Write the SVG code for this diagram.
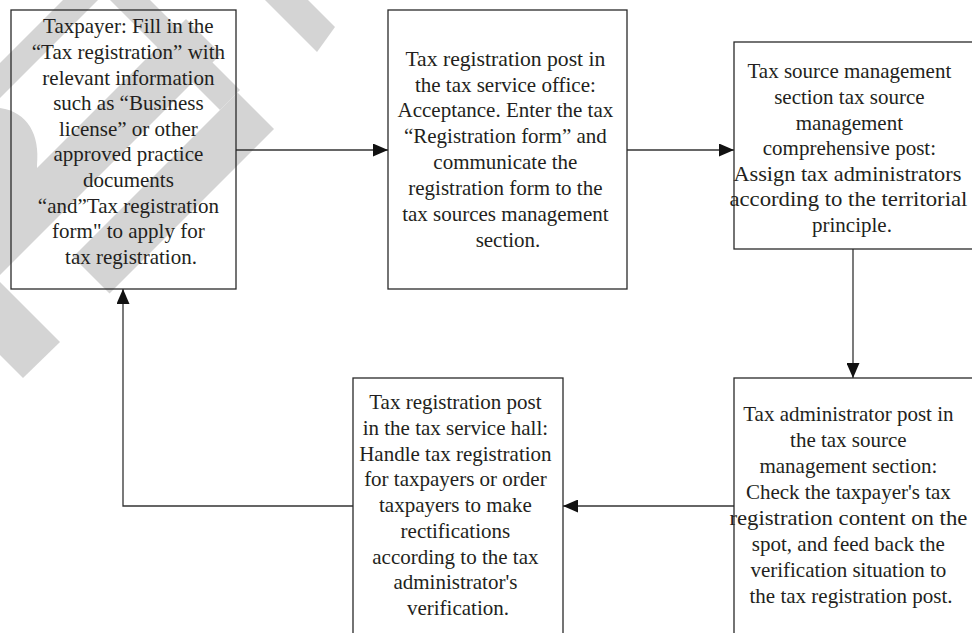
<svg xmlns="http://www.w3.org/2000/svg" width="972" height="633" viewBox="0 0 972 633">
  <style>
    .wm { fill: #d4d4d4; stroke: none; }
    .box { fill: none; stroke: #2a2a2a; stroke-width: 1.3; }
    .lbl { font-family: "Liberation Serif", "Times New Roman", serif; font-size: 21px; fill: #231f20; text-anchor: middle; }
    .edge { fill: none; stroke: #333333; stroke-width: 1.3; }
  </style>
  <defs>
    <marker id="arrow" markerUnits="userSpaceOnUse" markerWidth="15" markerHeight="13" refX="15" refY="6.5" orient="auto">
      <path d="M0,0 L15,6.5 L0,13 Z" fill="#111111"/>
    </marker>
  </defs>

  <rect x="0" y="0" width="972" height="633" fill="#ffffff"/>

  <!-- light grey background stamp in the upper-left corner -->
  <g id="stamp">
    <polygon class="wm" points="63,0 98,0 0,98 0,63"/>
    <polygon class="wm" points="110,0 150,0 240,90 220,110"/>
    <polygon class="wm" points="186,19 221,54 0,275 0,205"/>
    <polygon class="wm" points="237.5,92.5 274,129 109.5,293.5 73,257"/>
    <path class="wm" d="M0,108 C28,112 40,135 37,165 L37,205 L0,240 Z"/>
    <polygon class="wm" points="0,282 0,355 23,378 60,342"/>
    <polygon class="wm" points="265,0 308,0 335,27 317,52"/>
  </g>

  <g id="connectors">
    <path class="edge" d="M236,150 H388" marker-end="url(#arrow)"/>
    <path class="edge" d="M627,150 H734" marker-end="url(#arrow)"/>
    <path class="edge" d="M853,249 V378" marker-end="url(#arrow)"/>
    <path class="edge" d="M734,506 H563" marker-end="url(#arrow)"/>
    <path class="edge" d="M353,506 H123 V289" marker-end="url(#arrow)"/>
  </g>

  <g id="taxpayer">
    <rect class="box" x="11" y="10" width="225" height="279"/>
    <text class="lbl">
      <tspan x="131" y="33.3">Taxpayer: Fill in the</tspan>
      <tspan x="131" y="58.9">“Tax registration” with</tspan>
      <tspan x="131" y="84.5">relevant information</tspan>
      <tspan x="131" y="110.1">such as “Business</tspan>
      <tspan x="131" y="135.7">license” or other</tspan>
      <tspan x="131" y="161.3">approved practice</tspan>
      <tspan x="131" y="186.9">documents</tspan>
      <tspan x="131" y="212.5">“and”Tax registration</tspan>
      <tspan x="131" y="238.1">form" to apply for</tspan>
      <tspan x="131" y="263.7">tax registration.</tspan>
    </text>
  </g>

  <g id="office-post">
    <rect class="box" x="388" y="10" width="239" height="279"/>
    <text class="lbl">
      <tspan x="508" y="65.7" textLength="200" lengthAdjust="spacingAndGlyphs">Tax registration post in</tspan>
      <tspan x="508" y="91.6">the tax service office:</tspan>
      <tspan x="508" y="117.4">Acceptance. Enter the tax</tspan>
      <tspan x="508" y="143.3">“Registration form” and</tspan>
      <tspan x="508" y="169.1">communicate the</tspan>
      <tspan x="508" y="195.0">registration form to the</tspan>
      <tspan x="508" y="220.9">tax sources management</tspan>
      <tspan x="508" y="246.7">section.</tspan>
    </text>
  </g>

  <g id="source-section">
    <rect class="box" x="734" y="42" width="245" height="207"/>
    <text class="lbl">
      <tspan x="852" y="78.3">Tax source management</tspan>
      <tspan x="852" y="103.9">section tax source</tspan>
      <tspan x="852" y="129.5">management</tspan>
      <tspan x="852" y="155.1">comprehensive post:</tspan>
      <tspan x="850" y="180.7" textLength="228" lengthAdjust="spacingAndGlyphs">Assign tax administrators</tspan>
      <tspan x="851" y="206.3" textLength="238" lengthAdjust="spacingAndGlyphs">according to the territorial</tspan>
      <tspan x="852" y="231.9">principle.</tspan>
    </text>
  </g>

  <g id="administrator-post">
    <rect class="box" x="734" y="378" width="245" height="265"/>
    <text class="lbl">
      <tspan x="851" y="421">Tax administrator post in</tspan>
      <tspan x="851" y="447">the tax source</tspan>
      <tspan x="851" y="473">management section:</tspan>
      <tspan x="851" y="499">Check the taxpayer's tax</tspan>
      <tspan x="851" y="525" textLength="238" lengthAdjust="spacingAndGlyphs">registration content on the</tspan>
      <tspan x="851" y="551">spot, and feed back the</tspan>
      <tspan x="851" y="577">verification situation to</tspan>
      <tspan x="851" y="603">the tax registration post.</tspan>
    </text>
  </g>

  <g id="hall-post">
    <rect class="box" x="353" y="378" width="210" height="265"/>
    <text class="lbl">
      <tspan x="458" y="409">Tax registration post</tspan>
      <tspan x="458" y="434.8">in the tax service hall:</tspan>
      <tspan x="458" y="460.5">Handle tax registration</tspan>
      <tspan x="458" y="486.3">for taxpayers or order</tspan>
      <tspan x="458" y="512">taxpayers to make</tspan>
      <tspan x="458" y="537.8">rectifications</tspan>
      <tspan x="458" y="563.5">according to the tax</tspan>
      <tspan x="458" y="589.3">administrator's</tspan>
      <tspan x="458" y="615">verification.</tspan>
    </text>
  </g>
</svg>
